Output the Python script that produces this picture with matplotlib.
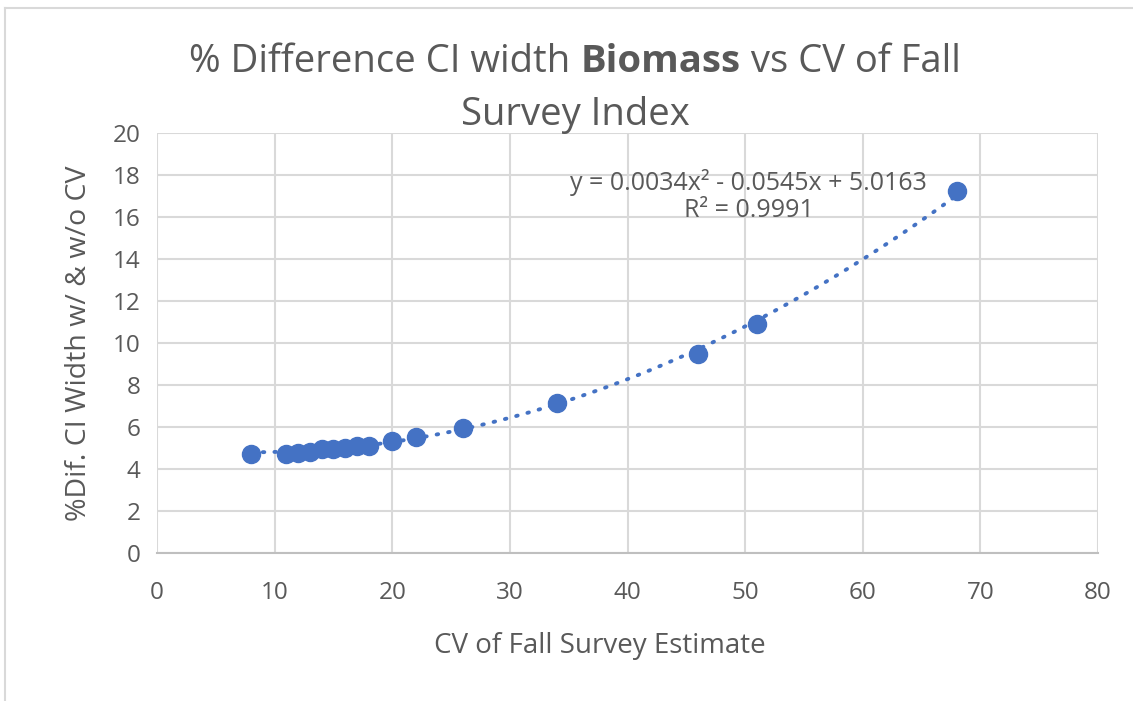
import matplotlib
matplotlib.use("Agg")
import matplotlib.pyplot as plt
import numpy as np

plt.rcParams['font.family'] = ['Open Sans', 'DejaVu Sans']

cv = [8, 11, 12, 13, 14, 15, 16, 17, 18, 20, 22, 26, 34, 46, 51, 68]
pct_diff = [4.70, 4.70, 4.75, 4.82, 4.94, 4.94, 4.99, 5.10, 5.10, 5.35, 5.51, 5.94, 7.14, 9.50, 10.92, 17.24]
coef = [0.0034, -0.0545, 5.0163]
x_ticks = [0, 10, 20, 30, 40, 50, 60, 70, 80]
y_ticks = [0, 2, 4, 6, 8, 10, 12, 14, 16, 18, 20]

W, H = 1133, 701
fig = plt.figure(figsize=(W/100, H/100), dpi=100)
ax = fig.add_axes([157/W, 1-553/H, (1098-157)/W, (553-133)/H])

blue = '#4472C4'
gray = '#595959'
grid = '#D9D9D9'

xt = np.linspace(min(cv), max(cv), 200)
ax.plot(xt, np.polyval(coef, xt), color=blue, lw=2.8, linestyle=(0, (0.4, 2.6)),
        dash_capstyle='round', zorder=3)
ax.plot(cv, pct_diff, 'o', color=blue, markersize=13, zorder=4)

ax.set_xlim(0, 80)
ax.set_ylim(0, 20)
ax.set_xticks(x_ticks)
ax.set_yticks(y_ticks)
ax.grid(True, color=grid, lw=1.5)
ax.set_axisbelow(True)
for s in ['top', 'right', 'left']:
    ax.spines[s].set_visible(False)
ax.spines['bottom'].set_color('#BFBFBF')
ax.spines['bottom'].set_linewidth(1.5)
ax.tick_params(axis='both', length=0, labelsize=17.5, labelcolor=gray)
ax.tick_params(axis='x', pad=20)
ax.tick_params(axis='y', pad=12)

fig.text(600/W, 1-646/H, 'CV of Fall Survey Estimate', fontsize=20, color=gray,
         ha='center', va='center')
ax.set_ylabel('%Dif. CI Width w/ & w/o CV', fontsize=20.5, color=gray, labelpad=14)

ax.text(0.629, 0.85, 'y = 0.0034x² - 0.0545x + 5.0163\nR² = 0.9991',
        transform=ax.transAxes, ha='center', va='center', fontsize=18,
        color=gray, linespacing=1.15)

# Title with bold word
r = fig.canvas.get_renderer()
parts = [("% Difference CI width ", 'normal'), ("Biomass", 'bold'), (" vs CV of Fall", 'normal')]
ts = 27.5
texts = []
for s, w in parts:
    t = fig.text(0, 1-62/H, s, fontsize=ts, fontweight=w, color=gray, va='center', ha='left')
    texts.append(t)
widths = [t.get_window_extent(r).width for t in texts]
total = sum(widths)
x0 = 575 - total/2
for t, w in zip(texts, widths):
    t.set_x(x0/W)
    x0 += w
fig.text(575/W, 1-115/H, "Survey Index", fontsize=ts, color=gray, va='center', ha='center')

# Chart outer border
fig.add_artist(plt.Line2D([5/W, 5/W], [0, 1-8/H], transform=fig.transFigure, color=grid, lw=1.5))
fig.add_artist(plt.Line2D([5/W, 1], [1-8/H, 1-8/H], transform=fig.transFigure, color=grid, lw=1.5))

fig.savefig('out.png', dpi=100)
